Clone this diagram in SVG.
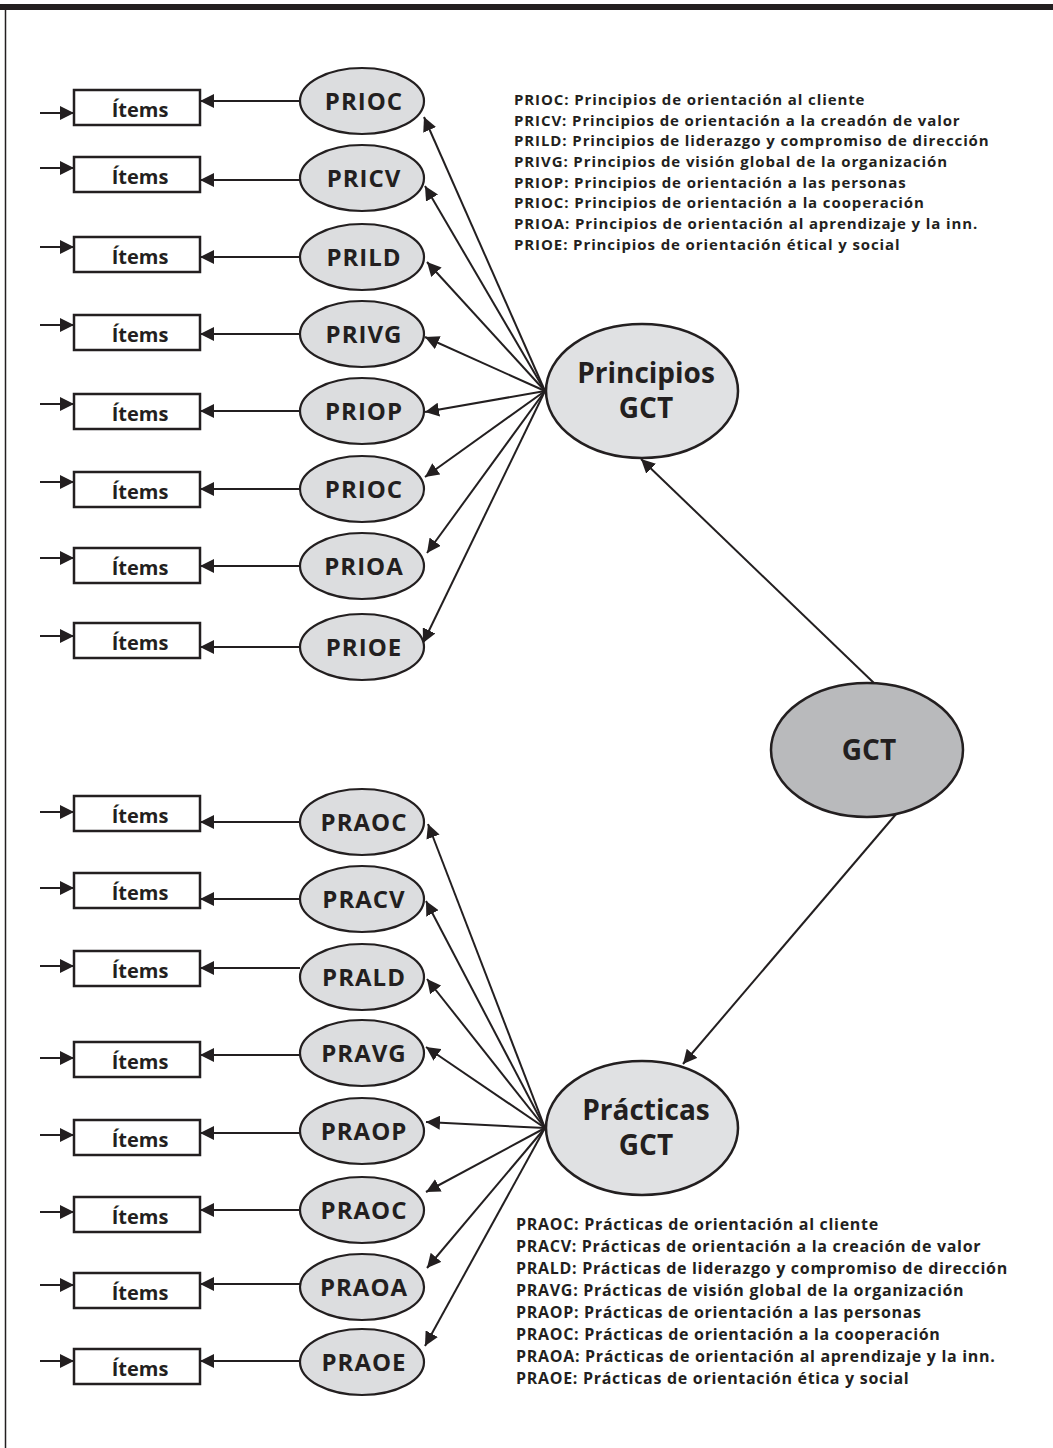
<svg xmlns="http://www.w3.org/2000/svg" width="1053" height="1448" viewBox="0 0 1053 1448">
<defs>
<style>
.box{fill:#fff;stroke:#231f20;stroke-width:2.5}
.el{fill:#dcdddf;stroke:#231f20;stroke-width:2.2}
.big{fill:#e0e1e3;stroke:#231f20;stroke-width:2.5}
.gct{fill:#b9babc;stroke:#231f20;stroke-width:2.5}
.ln{stroke:#231f20;stroke-width:2;fill:none;marker-end:url(#ah)}
.t{font-family:"Open Sans","Liberation Sans",sans-serif;font-weight:700;fill:#231f20;text-anchor:middle}
.it{font-size:20px}
.lab{font-size:24px;letter-spacing:1px}
.bl{font-size:28px}
.lg{font-family:"Open Sans","Liberation Sans",sans-serif;font-weight:700;fill:#231f20;font-size:15px;letter-spacing:0.9px}
.lg2{font-family:"Open Sans","Liberation Sans",sans-serif;font-weight:700;fill:#231f20;font-size:16px;letter-spacing:0.7px}
</style>
<marker id="ah" viewBox="0 0 14 14" refX="14" refY="7" markerWidth="14" markerHeight="14" markerUnits="userSpaceOnUse" orient="auto">
<path d="M0,0 L14,7 L0,14 z" fill="#231f20"/>
</marker>
</defs>
<rect x="0" y="0" width="1053" height="1448" fill="#fff"/>
<rect x="0" y="4" width="1053" height="6" fill="#231f20"/>
<line x1="5.5" y1="10" x2="5.5" y2="1448" stroke="#231f20" stroke-width="1.5"/>

<g id="connectors">
<line class="ln" x1="40" y1="113" x2="74" y2="113"/>
<line class="ln" x1="40" y1="168" x2="74" y2="168"/>
<line class="ln" x1="40" y1="247" x2="74" y2="247"/>
<line class="ln" x1="40" y1="325" x2="74" y2="325"/>
<line class="ln" x1="40" y1="404" x2="74" y2="404"/>
<line class="ln" x1="40" y1="482" x2="74" y2="482"/>
<line class="ln" x1="40" y1="558" x2="74" y2="558"/>
<line class="ln" x1="40" y1="636" x2="74" y2="636"/>
<line class="ln" x1="300" y1="101" x2="200" y2="101"/>
<line class="ln" x1="300" y1="180" x2="200" y2="180"/>
<line class="ln" x1="300" y1="257" x2="200" y2="257"/>
<line class="ln" x1="300" y1="334" x2="200" y2="334"/>
<line class="ln" x1="300" y1="411" x2="200" y2="411"/>
<line class="ln" x1="300" y1="489" x2="200" y2="489"/>
<line class="ln" x1="300" y1="566" x2="200" y2="566"/>
<line class="ln" x1="300" y1="647" x2="200" y2="647"/>
<line class="ln" x1="545" y1="391" x2="424" y2="117"/>
<line class="ln" x1="545" y1="391" x2="425" y2="186"/>
<line class="ln" x1="545" y1="391" x2="427" y2="262"/>
<line class="ln" x1="545" y1="391" x2="425" y2="337"/>
<line class="ln" x1="545" y1="391" x2="425" y2="412"/>
<line class="ln" x1="545" y1="391" x2="425" y2="477"/>
<line class="ln" x1="545" y1="391" x2="427" y2="553"/>
<line class="ln" x1="545" y1="391" x2="423" y2="643"/>
<line class="ln" x1="875" y1="684" x2="641" y2="459"/>
<line class="ln" x1="897" y1="813" x2="683" y2="1064"/>
<line class="ln" x1="40" y1="812" x2="74" y2="812"/>
<line class="ln" x1="40" y1="888" x2="74" y2="888"/>
<line class="ln" x1="40" y1="966" x2="74" y2="966"/>
<line class="ln" x1="40" y1="1058" x2="74" y2="1058"/>
<line class="ln" x1="40" y1="1135" x2="74" y2="1135"/>
<line class="ln" x1="40" y1="1212" x2="74" y2="1212"/>
<line class="ln" x1="40" y1="1285" x2="74" y2="1285"/>
<line class="ln" x1="40" y1="1361" x2="74" y2="1361"/>
<line class="ln" x1="300" y1="822" x2="200" y2="822"/>
<line class="ln" x1="300" y1="899" x2="200" y2="899"/>
<line class="ln" x1="300" y1="968" x2="200" y2="968"/>
<line class="ln" x1="300" y1="1055" x2="200" y2="1055"/>
<line class="ln" x1="300" y1="1133" x2="200" y2="1133"/>
<line class="ln" x1="300" y1="1210" x2="200" y2="1210"/>
<line class="ln" x1="300" y1="1284" x2="200" y2="1284"/>
<line class="ln" x1="300" y1="1361" x2="200" y2="1361"/>
<line class="ln" x1="545" y1="1128" x2="428" y2="824"/>
<line class="ln" x1="545" y1="1128" x2="426" y2="901"/>
<line class="ln" x1="545" y1="1128" x2="427" y2="979"/>
<line class="ln" x1="545" y1="1128" x2="426" y2="1047"/>
<line class="ln" x1="545" y1="1128" x2="426" y2="1122"/>
<line class="ln" x1="545" y1="1128" x2="426" y2="1192"/>
<line class="ln" x1="545" y1="1128" x2="427" y2="1268"/>
<line class="ln" x1="545" y1="1128" x2="425" y2="1346"/>
</g>

<g id="items-p1"><rect class="box" x="74" y="90" width="126" height="35"/><text class="t it" x="140" y="117">Ítems</text></g>
<g id="items-p2"><rect class="box" x="74" y="157" width="126" height="35"/><text class="t it" x="140" y="184">Ítems</text></g>
<g id="items-p3"><rect class="box" x="74" y="237" width="126" height="35"/><text class="t it" x="140" y="264">Ítems</text></g>
<g id="items-p4"><rect class="box" x="74" y="315" width="126" height="35"/><text class="t it" x="140" y="342">Ítems</text></g>
<g id="items-p5"><rect class="box" x="74" y="394" width="126" height="35"/><text class="t it" x="140" y="421">Ítems</text></g>
<g id="items-p6"><rect class="box" x="74" y="472" width="126" height="35"/><text class="t it" x="140" y="499">Ítems</text></g>
<g id="items-p7"><rect class="box" x="74" y="548" width="126" height="35"/><text class="t it" x="140" y="575">Ítems</text></g>
<g id="items-p8"><rect class="box" x="74" y="623" width="126" height="35"/><text class="t it" x="140" y="650">Ítems</text></g>

<g id="PRIOC1"><ellipse class="el" cx="362" cy="101" rx="62" ry="33"/><text class="t lab" x="364" y="110">PRIOC</text></g>
<g id="PRICV"><ellipse class="el" cx="362" cy="178" rx="62" ry="33"/><text class="t lab" x="364" y="187">PRICV</text></g>
<g id="PRILD"><ellipse class="el" cx="362" cy="257" rx="62" ry="33"/><text class="t lab" x="364" y="266">PRILD</text></g>
<g id="PRIVG"><ellipse class="el" cx="362" cy="334" rx="62" ry="33"/><text class="t lab" x="364" y="343">PRIVG</text></g>
<g id="PRIOP"><ellipse class="el" cx="362" cy="411" rx="62" ry="33"/><text class="t lab" x="364" y="420">PRIOP</text></g>
<g id="PRIOC2"><ellipse class="el" cx="362" cy="489" rx="62" ry="33"/><text class="t lab" x="364" y="498">PRIOC</text></g>
<g id="PRIOA"><ellipse class="el" cx="362" cy="566" rx="62" ry="33"/><text class="t lab" x="364" y="575">PRIOA</text></g>
<g id="PRIOE"><ellipse class="el" cx="362" cy="647" rx="62" ry="33"/><text class="t lab" x="364" y="656">PRIOE</text></g>

<g id="principios"><ellipse class="big" cx="642" cy="391" rx="96" ry="67"/><text class="t bl" x="646" y="383">Principios</text><text class="t bl" x="646" y="418">GCT</text></g>
<g id="gct"><ellipse class="gct" cx="867" cy="750" rx="96" ry="67"/><text class="t bl" x="869" y="760">GCT</text></g>
<g id="practicas"><ellipse class="big" cx="642" cy="1128" rx="96" ry="67"/><text class="t bl" x="646" y="1120">Prácticas</text><text class="t bl" x="646" y="1155">GCT</text></g>

<g id="items-a1"><rect class="box" x="74" y="796" width="126" height="35"/><text class="t it" x="140" y="823">Ítems</text></g>
<g id="items-a2"><rect class="box" x="74" y="873" width="126" height="35"/><text class="t it" x="140" y="900">Ítems</text></g>
<g id="items-a3"><rect class="box" x="74" y="951" width="126" height="35"/><text class="t it" x="140" y="978">Ítems</text></g>
<g id="items-a4"><rect class="box" x="74" y="1042" width="126" height="35"/><text class="t it" x="140" y="1069">Ítems</text></g>
<g id="items-a5"><rect class="box" x="74" y="1120" width="126" height="35"/><text class="t it" x="140" y="1147">Ítems</text></g>
<g id="items-a6"><rect class="box" x="74" y="1197" width="126" height="35"/><text class="t it" x="140" y="1224">Ítems</text></g>
<g id="items-a7"><rect class="box" x="74" y="1273" width="126" height="35"/><text class="t it" x="140" y="1300">Ítems</text></g>
<g id="items-a8"><rect class="box" x="74" y="1349" width="126" height="35"/><text class="t it" x="140" y="1376">Ítems</text></g>

<g id="PRAOC1"><ellipse class="el" cx="362" cy="822" rx="62" ry="33"/><text class="t lab" x="364" y="831">PRAOC</text></g>
<g id="PRACV"><ellipse class="el" cx="362" cy="899" rx="62" ry="33"/><text class="t lab" x="364" y="908">PRACV</text></g>
<g id="PRALD"><ellipse class="el" cx="362" cy="977" rx="62" ry="33"/><text class="t lab" x="364" y="986">PRALD</text></g>
<g id="PRAVG"><ellipse class="el" cx="362" cy="1053" rx="62" ry="33"/><text class="t lab" x="364" y="1062">PRAVG</text></g>
<g id="PRAOP"><ellipse class="el" cx="362" cy="1131" rx="62" ry="33"/><text class="t lab" x="364" y="1140">PRAOP</text></g>
<g id="PRAOC2"><ellipse class="el" cx="362" cy="1210" rx="62" ry="33"/><text class="t lab" x="364" y="1219">PRAOC</text></g>
<g id="PRAOA"><ellipse class="el" cx="362" cy="1287" rx="62" ry="33"/><text class="t lab" x="364" y="1296">PRAOA</text></g>
<g id="PRAOE"><ellipse class="el" cx="362" cy="1362" rx="62" ry="33"/><text class="t lab" x="364" y="1371">PRAOE</text></g>

<g id="legend-principios" class="lg">
<text x="514" y="105">PRIOC: Principios de orientación al cliente</text>
<text x="514" y="126">PRICV: Principios de orientación a la creadón de valor</text>
<text x="514" y="146">PRILD: Principios de liderazgo y compromiso de dirección</text>
<text x="514" y="167">PRIVG: Principios de visión global de la organización</text>
<text x="514" y="188">PRIOP: Principios de orientación a las personas</text>
<text x="514" y="208">PRIOC: Principios de orientación a la cooperación</text>
<text x="514" y="229">PRIOA: Principios de orientación  al aprendizaje y la inn.</text>
<text x="514" y="250">PRIOE: Principios de orientación étical y social</text>
</g>
<g id="legend-practicas" class="lg2">
<text x="516" y="1230">PRAOC: Prácticas de orientación al cliente</text>
<text x="516" y="1252">PRACV: Prácticas de orientación a la creación de valor</text>
<text x="516" y="1274">PRALD: Prácticas de liderazgo y compromiso de dirección</text>
<text x="516" y="1296">PRAVG: Prácticas de visión global de la organización</text>
<text x="516" y="1318">PRAOP: Prácticas de orientación a las personas</text>
<text x="516" y="1340">PRAOC: Prácticas de orientación a la cooperación</text>
<text x="516" y="1362">PRAOA: Prácticas de orientación al aprendizaje y la inn.</text>
<text x="516" y="1384">PRAOE: Prácticas de orientación ética y social</text>
</g>
</svg>
